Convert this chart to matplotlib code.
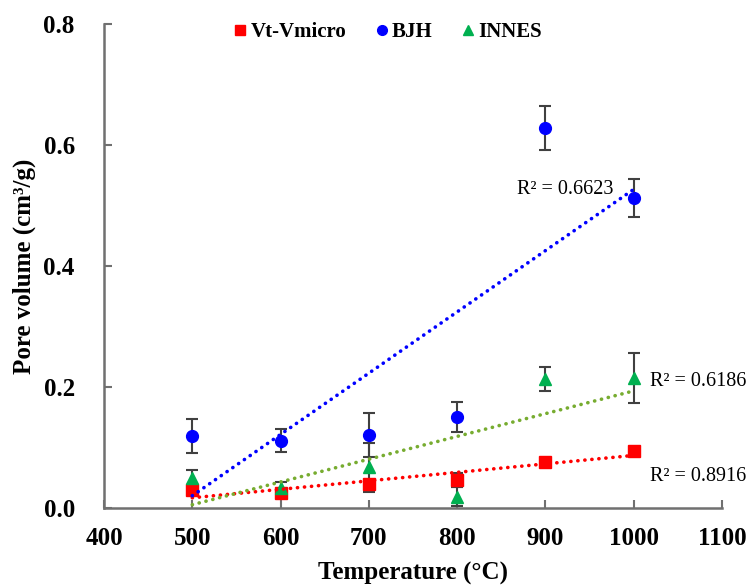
import numpy as np
import matplotlib
matplotlib.use("Agg")
import matplotlib.pyplot as plt
from matplotlib.lines import Line2D

plt.rcParams['font.family'] = ['Liberation Serif', 'DejaVu Serif']

# data
temps = [500, 600, 700, 800, 900, 1000]
vt_vmicro = [0.029, 0.025, 0.040, 0.046, 0.0765, 0.095]
vt_err = [0.008, 0.005, 0.006, 0.012, 0.003, 0.003]
bjh = [0.119, 0.111, 0.121, 0.150, 0.628, 0.512]
bjh_err = [0.028, 0.019, 0.036, 0.025, 0.037, 0.031]
innes = [0.050, 0.033, 0.067, 0.019, 0.213, 0.215]
innes_err = [0.012, 0.010, 0.040, 0.015, 0.020, 0.042]
r2_labels = ["R\u00b2 = 0.8916", "R\u00b2 = 0.6623", "R\u00b2 = 0.6186"]

fig = plt.figure(figsize=(7.51, 5.87), dpi=100)
ax = fig.add_axes([104/751, 1-508/587, 618/751, 484/587])

series = [
    ("Vt-Vmicro", vt_vmicro, vt_err, "s", "#FF0000", "#FF0000"),
    ("BJH", bjh, bjh_err, "o", "#0000FF", "#0000FF"),
    ("INNES", innes, innes_err, "^", "#00B050", "#77AC30"),
]

x = np.array(temps)
for name, y, e, m, c, tc in series:
    ax.errorbar(x, y, yerr=e, fmt=m, color=c, ms=8.5, ecolor="#404040",
                elinewidth=1.5, capsize=4, capthick=1.5, zorder=2)
    # linear trendline (Excel style, round dots)
    k, b = np.polyfit(x, y, 1)
    xs = np.array([500, 1000])
    ax.plot(xs, k*xs + b, color=tc, lw=2.6, ls=(0, (0.05, 1.9)),
            dash_capstyle="round", zorder=3)

ax.text(977, 0.527, r2_labels[1], fontsize=14.5, ha="right", va="center")
ax.text(1019, 0.209, r2_labels[2], fontsize=14.5, ha="left", va="center")
ax.text(1018, 0.052, r2_labels[0], fontsize=14.5, ha="left", va="center")

ax.set_xlim(400, 1100)
ax.set_ylim(0, 0.8)
ax.set_xticks(range(400, 1101, 100))
ax.set_yticks([0, 0.2, 0.4, 0.6, 0.8])
ax.set_yticklabels(["0.0", "0.2", "0.4", "0.6", "0.8"])
for s in ["top", "right"]:
    ax.spines[s].set_visible(False)
for s in ["left", "bottom"]:
    ax.spines[s].set_color("#707070")
    ax.spines[s].set_linewidth(1.8)
ax.tick_params(direction="in", length=6, width=1.5, color="#707070",
               labelsize=18)
ax.tick_params(axis="y", pad=21)
ax.tick_params(axis="x", pad=14)
for lbl in ax.get_xticklabels() + ax.get_yticklabels():
    lbl.set_fontweight("bold")

ax.set_xlabel("Temperature (\u00b0C)", fontsize=18, fontweight="bold")
ax.set_ylabel("Pore volume (cm\u00b3/g)", fontsize=18, fontweight="bold")
ax.xaxis.set_label_coords(0.5, -0.112)
ax.yaxis.set_label_coords(-0.11, 0.5)

handles = [Line2D([], [], ls="none", marker=m, color=c, ms=7)
           for name, y, e, m, c, tc in series]
fig.legend(handles, [s[0] for s in series], loc="center",
           bbox_to_anchor=(388/751, 1-32/587), ncol=3, frameon=False,
           prop={"weight": "bold", "size": 15}, handlelength=0.6,
           handletextpad=0.2, columnspacing=1.4)

fig.savefig("out.png", dpi=100)
